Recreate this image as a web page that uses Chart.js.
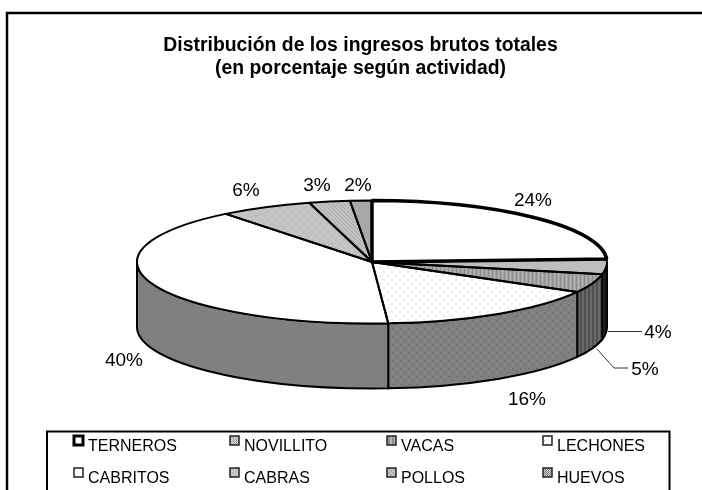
<!DOCTYPE html>
<html><head><meta charset="utf-8">
<script src="https://cdn.jsdelivr.net/npm/chart.js@4/dist/chart.umd.js"></script>
<style>html,body{margin:0;padding:0;background:#fff;overflow:hidden}#w{width:702px;height:490px;position:relative}canvas{display:block}</style>
</head><body><div id="w"><canvas id="c" width="702" height="490"></canvas></div>
<script>
const categories = ['TERNEROS','NOVILLITO','VACAS','LECHONES','CABRITOS','CABRAS','POLLOS','HUEVOS'];
const values = [24.2,4,4.9,15.8,40.4,6.4,2.8,1.5];
const valueLabels = ['24%','4%','5%','16%','40%','6%','3%','2%'];
const titleLines = ['Distribución de los ingresos brutos totales','(en porcentaje según actividad)'];

const CX=372, CY=262, RX=235, RY=61.5, DEPTH=65, K=RY/RX;
const FONT='"Liberation Sans", Arial, sans-serif';

function tile(w,h,draw){const c=document.createElement('canvas');c.width=w;c.height=h;draw(c.getContext('2d'));return c;}
function dots(bg,fg,n){return tile(n,n,g=>{g.fillStyle=bg;g.fillRect(0,0,n,n);g.fillStyle=fg;g.fillRect(0,0,1,1);g.fillRect(n/2,n/2,1,1);});}
function vstripes(a,b){return tile(4,4,g=>{g.fillStyle=a;g.fillRect(0,0,4,4);g.fillStyle=b;g.fillRect(0,0,2,4);});}
function checker(a,b){return tile(2,2,g=>{g.fillStyle=a;g.fillRect(0,0,2,2);g.fillStyle=b;g.fillRect(0,0,1,1);g.fillRect(1,1,1,1);});}
function diag(a,b){return tile(4,4,g=>{g.fillStyle=a;g.fillRect(0,0,4,4);g.fillStyle=b;for(let i=0;i<4;i++)g.fillRect(i,i,1,1);});}

const scr=document.createElement('canvas').getContext('2d');
function pat(t,comp){const p=scr.createPattern(t,'repeat');if(comp)p.setTransform(new DOMMatrix().scale(1,1/K));return p;}
const topTiles=[null,checker('#d4d4d4','#a8a8a8'),vstripes('#b4b4b4','#8e8e8e'),dots('#ffffff','#b0b0b0',8),null,dots('#c4c4c4','#a0a0a0',8),diag('#c8c8c8','#989898'),checker('#d0d0d0','#808080')];
const sideTiles=[null,vstripes('#444444','#1c1c1c'),vstripes('#6a6a6a','#505050'),dots('#808080','#5c5c5c',8),null,dots('#606060','#505050',8),diag('#606060','#404040'),checker('#686868','#383838')];
const topFlat=['#ffffff',null,null,null,'#ffffff',null,null,null];
const sideFlat=['#808080',null,null,null,'#808080',null,null,null];
const fills=topTiles.map((t,i)=>t?pat(t,true):topFlat[i]);
const sideFills=sideTiles.map((t,i)=>t?pat(t,false):sideFlat[i]);
const legendFills=topTiles.map((t,i)=>t?pat(t,false):topFlat[i]);

const labelSpots=[[533,201],[658,333],[645,370],[527,400],[124,361],[246,191],[317,186],[358,186]];
const legendCols=[74,230,387,543], legendRows=[441,473];

function toEllipse(ctx,a){ctx.translate(CX,CY);ctx.scale(1,K);ctx.translate(-a.x,-a.y);}

const pie3d={id:'pie3d',
 beforeDatasetsDraw(chart){
  const ctx=chart.ctx, arcs=chart.getDatasetMeta(0).data;
  arcs.forEach((a,i)=>{
    const p=Math.max(a.startAngle,0), q=Math.min(a.endAngle,Math.PI);
    if(q<=p) return;
    ctx.save();ctx.beginPath();
    ctx.ellipse(CX,CY,RX,RY,0,p,q);
    ctx.lineTo(CX+RX*Math.cos(q),CY+RY*Math.sin(q)+DEPTH);
    ctx.ellipse(CX,CY+DEPTH,RX,RY,0,q,p,true);
    ctx.closePath();
    ctx.fillStyle=sideFills[i];ctx.fill();
    ctx.strokeStyle='#000';ctx.lineWidth=2;ctx.stroke();
    ctx.restore();
  });
  ctx.save();
  toEllipse(ctx,arcs[0]);
 },
 afterDatasetsDraw(chart){
  const ctx=chart.ctx, arcs=chart.getDatasetMeta(0).data;
  ctx.restore();
  arcs.map((a,i)=>i).reverse().forEach(i=>{
    const a=arcs[i];
    ctx.save();ctx.beginPath();
    ctx.save();toEllipse(ctx,a);
    ctx.moveTo(a.x,a.y);
    ctx.arc(a.x,a.y,a.outerRadius,a.startAngle,a.endAngle);
    ctx.closePath();
    ctx.restore();
    ctx.lineJoin='bevel';ctx.strokeStyle='#000';ctx.lineWidth=i===0?3.5:2;ctx.stroke();
    ctx.restore();
  });
  ctx.save();
  ctx.strokeStyle='#333';ctx.lineWidth=1;
  ctx.beginPath();ctx.moveTo(608,331.5);ctx.lineTo(642,331.5);ctx.moveTo(597,349);ctx.lineTo(614,368);ctx.lineTo(628,368);ctx.stroke();
  ctx.fillStyle='#000';ctx.font='19px '+FONT;ctx.textAlign='center';ctx.textBaseline='middle';
  valueLabels.forEach((v,i)=>ctx.fillText(v,labelSpots[i][0],labelSpots[i][1]));
  ctx.strokeStyle='#000';ctx.lineWidth=2.5;ctx.beginPath();ctx.moveTo(7,490);ctx.lineTo(7,13);ctx.lineTo(702,13);ctx.stroke();
  ctx.lineWidth=2;ctx.beginPath();ctx.moveTo(47,490);ctx.lineTo(47,431.5);ctx.lineTo(669.5,431.5);ctx.lineTo(669.5,490);ctx.stroke();
  ctx.font='16px '+FONT;ctx.textAlign='left';
  categories.forEach((n,i)=>{
    const x=legendCols[i%4], y=legendRows[i>>2];
    ctx.fillStyle=legendFills[i];ctx.fillRect(x,y-5,9,9);
    ctx.lineWidth=i===0?3:1.5;ctx.strokeStyle=i===0?'#000':'#222';ctx.strokeRect(x,y-5,9,9);
    ctx.fillStyle='#000';ctx.fillText(n,x+14,y+5.5);
  });
  ctx.restore();
 }
};

new Chart(document.getElementById('c'),{
 type:'pie',
 plugins:[pie3d],
 data:{labels:categories,datasets:[{data:values,backgroundColor:fills,borderWidth:0,clip:false}]},
 options:{responsive:false,animation:false,radius:RX,
  layout:{padding:{left:19,right:0,top:34,bottom:-200}},
  events:[],
  plugins:{legend:{display:false},tooltip:{enabled:false},
   title:{display:true,text:titleLines,color:'#000',font:{family:FONT,size:19.4,weight:'bold',lineHeight:1.2},padding:0}}}
});
</script></body></html>
